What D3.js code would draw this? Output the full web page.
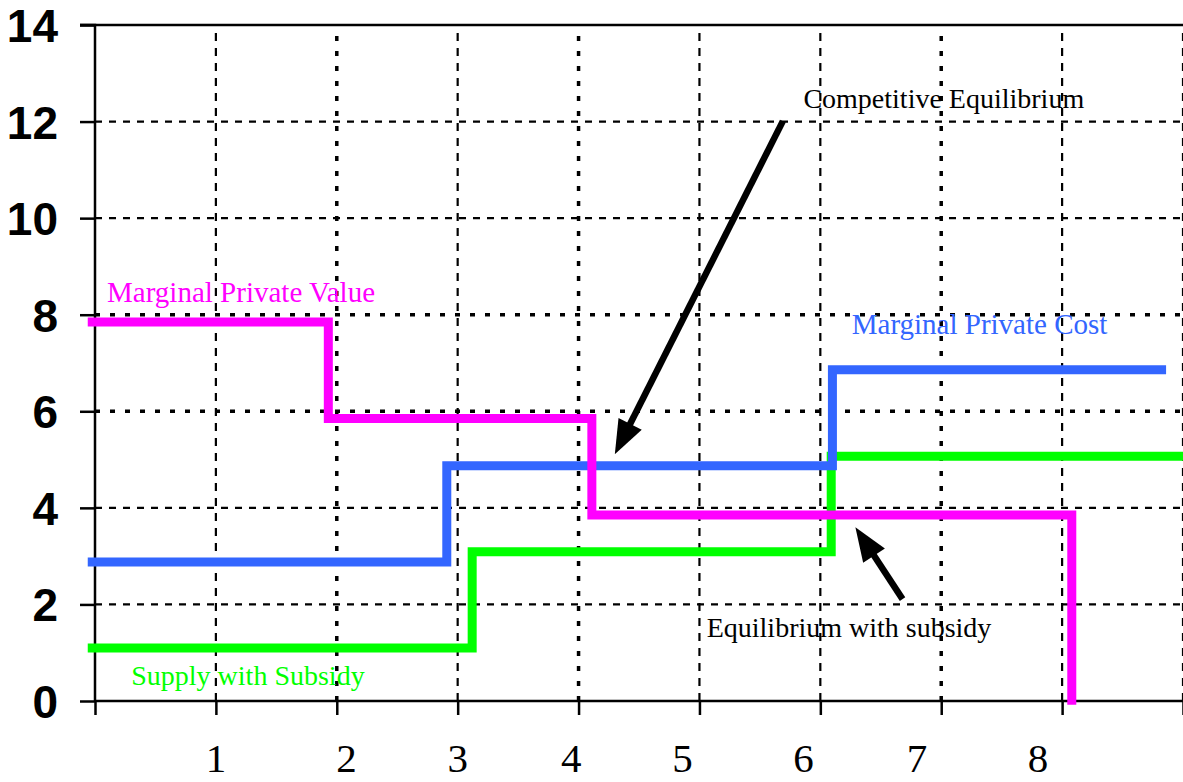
<!DOCTYPE html>
<html><head><meta charset="utf-8">
<script src="https://cdn.jsdelivr.net/npm/d3@7"></script>
<style>html,body{margin:0;padding:0;background:#fff;}</style>
</head><body>
<svg id="chart" width="1183" height="782"></svg>
<script>
// ---- data ----
const yTicks = [0, 2, 4, 6, 8, 10, 12, 14];
const xTicks = [0, 1, 2, 3, 4, 5, 6, 7, 8, 9];
const xLabels = ["1", "2", "3", "4", "5", "6", "7", "8"];
const xLabelAt = [1.0, 2.08, 3.0, 3.94, 4.86, 5.86, 6.8, 7.8];

const mpvX = [-0.06, 1.93, 1.93, 4.11, 4.11, 8.08, 8.08];
const mpvY = [7.85, 7.85, 5.85, 5.85, 3.85, 3.85, -0.08];
const mpcX = [-0.06, 2.91, 2.91, 6.1, 6.1, 8.86];
const mpcY = [2.88, 2.88, 4.87, 4.87, 6.86, 6.86];
const subX = [-0.06, 3.12, 3.12, 6.09, 6.09, 9.0];
const subY = [1.1, 1.1, 3.09, 3.09, 5.07, 5.07];

const annotText = ["Marginal Private Value", "Marginal Private Cost", "Supply with Subsidy",
                   "Equilibrium with subsidy", "Competitive Equilibrium"];
const annotX = [0.1, 6.26, 0.3, 5.06, 5.86];
const annotY = [8.26, 7.6, 0.33, 1.33, 12.28];
const annotColor = ["#FF00FF", "#3366FF", "#00FF00", "#000000", "#000000"];

const arrowFrom = [[5.69, 12.01], [6.68, 2.11]];
const arrowTo = [[4.30, 5.11], [6.29, 3.6]];

// ---- drawing ----
const svg = d3.select("#chart");
const x = d3.scaleLinear().domain([0, 9]).range([95, 1183]);
const y = d3.scaleLinear().domain([0, 14]).range([701, 25]);

// gridlines
const heavyY = new Set([6, 8]);
const heavyX = new Set([2, 4, 7]);
svg.append("g").selectAll("line").data(yTicks.filter(d => d > 0 && d < 14)).join("line")
  .attr("x1", x(0)).attr("x2", x(9))
  .attr("y1", d => y(d)).attr("y2", d => y(d))
  .attr("stroke", "#000")
  .attr("stroke-width", d => heavyY.has(d) ? 3.5 : 2.2)
  .attr("stroke-dasharray", d => heavyY.has(d) ? "5,10" : "7,7");
svg.append("g").selectAll("line").data(xTicks.filter(d => d > 0)).join("line")
  .attr("y1", y(0)).attr("y2", y(14))
  .attr("x1", d => x(d)).attr("x2", d => x(d))
  .attr("stroke", "#000")
  .attr("stroke-width", d => heavyX.has(d) ? 3.5 : 2.2)
  .attr("stroke-dasharray", d => heavyX.has(d) ? "5,10" : "8,7");

// top border line
svg.append("line").attr("x1", x(0) - 15).attr("x2", x(9)).attr("y1", y(14)).attr("y2", y(14))
  .attr("stroke", "#000").attr("stroke-width", 2.5);

// y axis
const yAxis = d3.axisLeft(y).tickValues(yTicks).tickSize(15).tickPadding(22).tickFormat(d3.format("d"));
const gy = svg.append("g").attr("transform", `translate(${x(0)},0)`).call(yAxis);
gy.select(".domain").attr("stroke", "#000").attr("stroke-width", 2.5).attr("d", `M-15,${y(14)}H0V${y(0)}`);
gy.selectAll(".tick line").attr("stroke", "#000").attr("stroke-width", 2.5);
gy.selectAll(".tick text").attr("font-family", "'Liberation Sans', Arial, sans-serif")
  .attr("font-weight", "bold").attr("font-size", 46).attr("fill", "#000").attr("dy", "0.36em");

// x axis
const xAxis = d3.axisBottom(x).tickValues(xTicks).tickSize(14).tickFormat("");
const gx = svg.append("g").attr("transform", `translate(0,${y(0)})`).call(xAxis);
gx.select(".domain").attr("stroke", "#000").attr("stroke-width", 2.5).attr("d", `M${x(0)},0H${x(9)}`);
gx.selectAll(".tick line").attr("stroke", "#000").attr("stroke-width", 2.5);

svg.append("g").selectAll("text").data(xLabels).join("text")
  .attr("x", (d, i) => x(xLabelAt[i]))
  .attr("y", 772)
  .attr("text-anchor", "middle")
  .attr("font-family", "'Liberation Serif', 'Times New Roman', serif")
  .attr("font-size", 41)
  .attr("fill", "#000")
  .text(d => d);

// step lines
const line = d3.line().x(d => x(d[0])).y(d => y(d[1]));
const series = [
  {xs: subX, ys: subY, color: "#00FF00"},
  {xs: mpcX, ys: mpcY, color: "#3366FF"},
  {xs: mpvX, ys: mpvY, color: "#FF00FF"}
];
svg.append("g").selectAll("path").data(series).join("path")
  .attr("d", s => line(s.xs.map((v, i) => [v, s.ys[i]])))
  .attr("fill", "none")
  .attr("stroke", s => s.color)
  .attr("stroke-width", 9)
  .attr("stroke-linejoin", "miter");

// annotations
svg.append("g").selectAll("text").data(annotText).join("text")
  .attr("x", (d, i) => x(annotX[i]))
  .attr("y", (d, i) => y(annotY[i]))
  .attr("fill", (d, i) => annotColor[i])
  .attr("font-family", "'Liberation Serif', 'Times New Roman', serif")
  .attr("font-size", (d, i) => i < 2 ? 29 : 28)
  .text(d => d);

// arrows
const ag = svg.append("g");
arrowFrom.forEach((f, i) => {
  const x1 = x(f[0]), y1 = y(f[1]), x2 = x(arrowTo[i][0]), y2 = y(arrowTo[i][1]);
  const dx = x2 - x1, dy = y2 - y1, len = Math.hypot(dx, dy);
  const ux = dx / len, uy = dy / len;
  const hl = 34, hw = 13;
  const bx = x2 - ux * hl, by = y2 - uy * hl;
  ag.append("line").attr("x1", x1).attr("y1", y1).attr("x2", bx + ux * 4).attr("y2", by + uy * 4)
    .attr("stroke", "#000").attr("stroke-width", 6.5);
  ag.append("path")
    .attr("d", `M${x2},${y2}L${bx - uy * hw},${by + ux * hw}L${bx + uy * hw},${by - ux * hw}Z`)
    .attr("fill", "#000");
});
</script>
</body></html>
